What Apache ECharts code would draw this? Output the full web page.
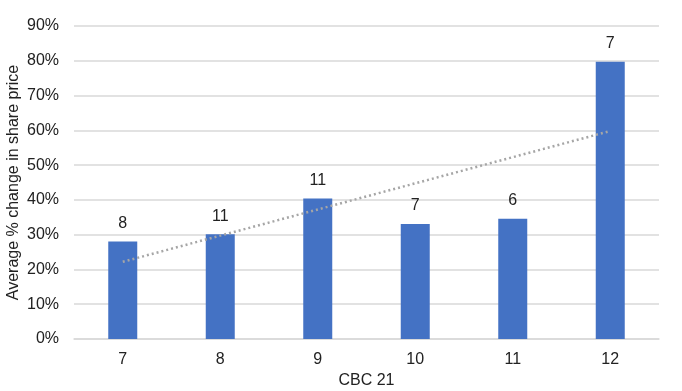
<!DOCTYPE html>
<html>
<head>
<meta charset="utf-8">
<script src="https://cdn.jsdelivr.net/npm/echarts@6/dist/echarts.min.js"></script>
<style>html,body{margin:0;padding:0;background:#fff}#c{width:682px;height:391px}</style>
</head>
<body>
<div id="c"></div>
<script>
var categories = ['7', '8', '9', '10', '11', '12'];
var avgChange = [28.0, 30.1, 40.4, 33.1, 34.6, 79.7];
var counts = [8, 11, 11, 7, 6, 7];
var trendline = [22.2, null, null, null, null, 59.8];
var yTicks = [0, 10, 20, 30, 40, 50, 60, 70, 80, 90];

var chart = echarts.init(document.getElementById('c'), null, {renderer: 'canvas'});
var font = 'Liberation Sans, Arial, Helvetica, sans-serif';
chart.setOption({
  animation: false,
  textStyle: {fontFamily: font},
  grid: {left: 74, right: 23, top: 26, bottom: 52, containLabel: false, outerBoundsMode: 'none'},
  xAxis: {
    type: 'category',
    data: categories,
    name: 'CBC 21',
    nameLocation: 'middle',
    nameGap: 34,
    nameTextStyle: {fontSize: 16, color: '#222', fontFamily: font},
    axisLine: {show: true, lineStyle: {color: '#d9d9d9', width: 1.5}},
    axisTick: {show: false},
    axisLabel: {fontSize: 16, color: '#222', margin: 13, fontFamily: font}
  },
  yAxis: {
    type: 'value',
    min: yTicks[0],
    max: yTicks[yTicks.length - 1],
    interval: 10,
    name: 'Average % change in share price',
    nameLocation: 'middle',
    nameGap: 52,
    nameMoveOverlap: false,
    nameTextStyle: {fontSize: 16, color: '#222', fontFamily: font},
    axisLine: {show: false},
    axisTick: {show: false},
    splitLine: {lineStyle: {color: '#d9d9d9', width: 1.5}},
    axisLabel: {fontSize: 16, color: '#222', margin: 15, fontFamily: font,
      formatter: function (v) { return v + '%'; }}
  },
  series: [
    {
      type: 'bar',
      data: avgChange,
      barWidth: 29,
      itemStyle: {color: '#4472C4'},
      label: {
        show: true,
        position: 'top',
        distance: 10,
        fontSize: 16,
        color: '#222',
        fontFamily: font,
        formatter: function (p) { return counts[p.dataIndex]; }
      },
      z: 2
    },
    {
      type: 'line',
      data: trendline,
      connectNulls: true,
      symbol: 'none',
      lineStyle: {color: '#a6a6a6', width: 2.5, type: [2, 3]},
      z: 3
    }
  ]
});
</script>
</body>
</html>
